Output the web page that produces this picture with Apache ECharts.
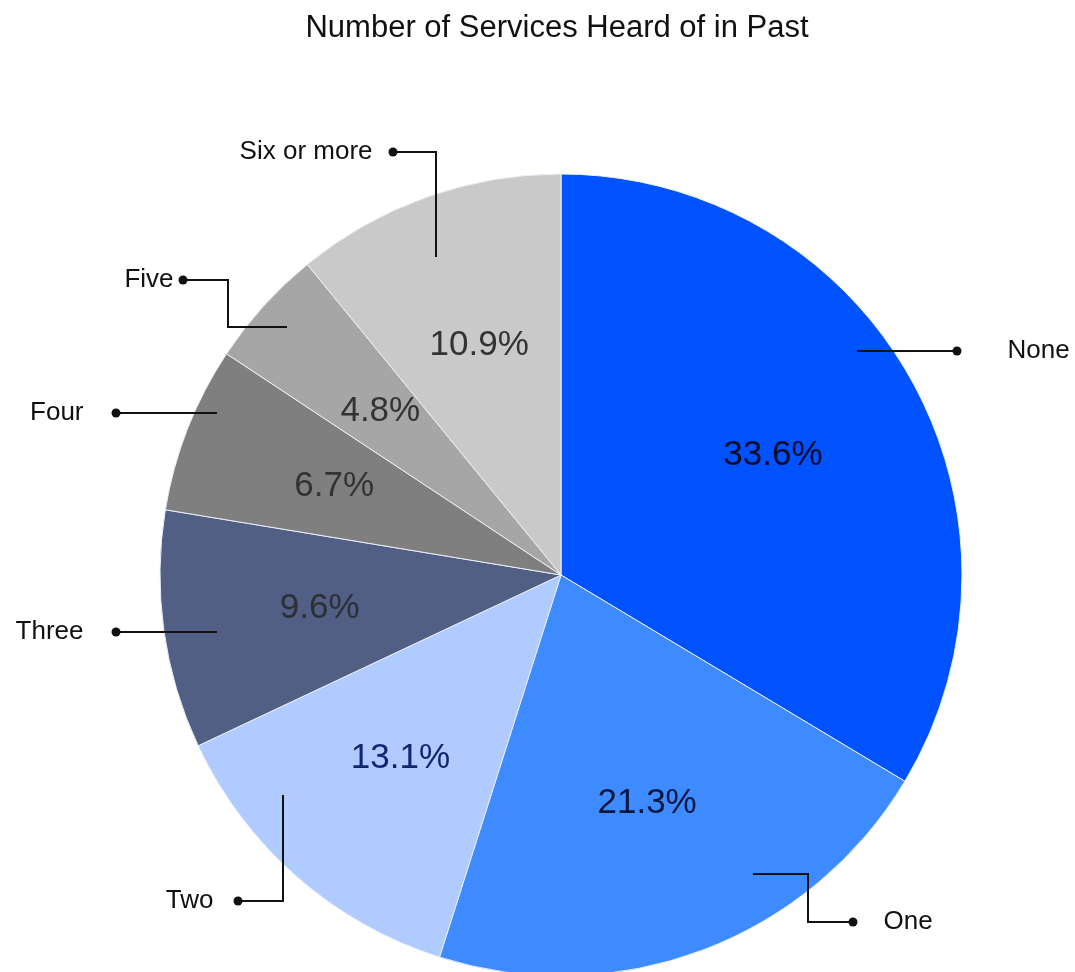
<!DOCTYPE html>
<html>
<head>
<meta charset="utf-8">
<title>Number of Services Heard of in Past</title>
<script src="https://cdn.jsdelivr.net/npm/echarts@6/dist/echarts.min.js"></script>
<style>
  html, body { margin: 0; padding: 0; background: #ffffff; }
  #chart { width: 1075px; height: 972px; }
</style>
</head>
<body>
<div id="chart"></div>
<script>
// Survey answers: how many services each respondent had heard of before
const categories = ['None', 'One', 'Two', 'Three', 'Four', 'Five', 'Six or more'];
const shares = [33.6, 21.3, 13.1, 9.6, 6.7, 4.8, 10.9];

// Slice fills and the colour of the percentage written on each slice
const sliceColors = ['#0052ff', '#3d8bff', '#b0cbff', '#525f84', '#7f7f7f', '#a6a6a6', '#c9c9c9'];
const valueColors = ['#080c26', '#0c1640', '#112670', '#2d2f37', '#333333', '#333333', '#333333'];

// Pie geometry
const PIE_CENTER = [561, 575];
const PIE_RADIUS = 401;

// Elbow callouts: polyline from inside the slice to the dot beside the name
const callouts = [
  { side: 'right', gap: 46, path: [[857, 351], [957, 351]] },
  { side: 'right', gap: 26, path: [[753, 874], [808, 874], [808, 922], [853, 922]] },
  { side: 'left',  gap: 20, path: [[283, 795], [283, 901], [238, 901]] },
  { side: 'left',  gap: 28, path: [[217, 632], [116, 632]] },
  { side: 'left',  gap: 28, path: [[217, 413], [116, 413]] },
  { side: 'left',  gap: 5,  path: [[287, 327], [228, 327], [228, 280], [183, 280]] },
  { side: 'left',  gap: 16, path: [[436, 257], [436, 152], [393, 152]] }
];
const DOT = 9;

const chart = echarts.init(document.getElementById('chart'), null, { renderer: 'canvas' });

const sliceData = categories.map((name, i) => ({
  name: name,
  value: shares[i],
  itemStyle: { color: sliceColors[i] }
}));

const valueData = categories.map((name, i) => ({
  name: name,
  value: shares[i],
  label: { color: valueColors[i] }
}));

const calloutData = categories.map((name, i) => ({
  name: name,
  value: shares[i],
  label: {
    rich: {
      t: callouts[i].side === 'left'
        ? { padding: [0, callouts[i].gap, 0, 0] }
        : { padding: [0, 0, 0, callouts[i].gap] }
    }
  }
}));

const option = {
  animation: false,
  title: {
    text: 'Number of Services Heard of in Past',
    left: 552,
    textAlign: 'center',
    top: 8,
    textStyle: {
      fontFamily: 'Liberation Sans',
      fontSize: 31,
      fontWeight: 'normal',
      color: '#111111'
    }
  },
  series: [
    {
      // Coloured slices
      type: 'pie',
      z: 1,
      center: PIE_CENTER,
      radius: [0, PIE_RADIUS],
      startAngle: 90,
      clockwise: true,
      silent: true,
      itemStyle: { borderColor: '#e9eef8', borderWidth: 1 },
      label: { show: false },
      labelLine: { show: false },
      data: sliceData
    },
    {
      // Transparent ring that carries the percentage labels at 0.6 of the radius
      type: 'pie',
      z: 2,
      center: PIE_CENTER,
      radius: [PIE_RADIUS * 0.5, PIE_RADIUS * 0.7],
      startAngle: 90,
      clockwise: true,
      silent: true,
      itemStyle: { color: 'rgba(0,0,0,0)' },
      label: {
        show: true,
        position: 'inside',
        fontFamily: 'Liberation Sans',
        fontSize: 35,
        formatter: (p) => p.value.toFixed(1) + '%'
      },
      labelLine: { show: false },
      data: valueData
    },
    {
      // Transparent copy of the slices whose labels are the name callouts,
      // drawn last so the leader lines sit on top of the coloured slices
      type: 'pie',
      z: 3,
      center: PIE_CENTER,
      radius: [0, PIE_RADIUS],
      startAngle: 90,
      clockwise: true,
      silent: true,
      avoidLabelOverlap: false,
      itemStyle: { color: 'rgba(0,0,0,0)' },
      label: {
        show: true,
        position: 'outside',
        formatter: (p) => callouts[p.dataIndex].side === 'left'
          ? '{t|' + p.name + '}{d| }'
          : '{d| }{t|' + p.name + '}',
        rich: {
          t: { fontFamily: 'Liberation Sans', fontSize: 26, color: '#111111', verticalAlign: 'middle' },
          d: { width: DOT, height: DOT, borderRadius: DOT / 2, backgroundColor: '#111111', verticalAlign: 'middle' }
        }
      },
      labelLine: {
        show: true,
        smooth: false,
        lineStyle: { color: '#111111', width: 2 }
      },
      labelLayout: (params) => {
        const c = callouts[params.dataIndex];
        const end = c.path[c.path.length - 1];
        const left = c.side === 'left';
        return {
          x: left ? end[0] + DOT / 2 : end[0] - DOT / 2,
          y: end[1],
          align: left ? 'right' : 'left',
          verticalAlign: 'middle',
          labelLinePoints: c.path
        };
      },
      data: calloutData
    }
  ]
};

chart.setOption(option);
</script>
</body>
</html>
